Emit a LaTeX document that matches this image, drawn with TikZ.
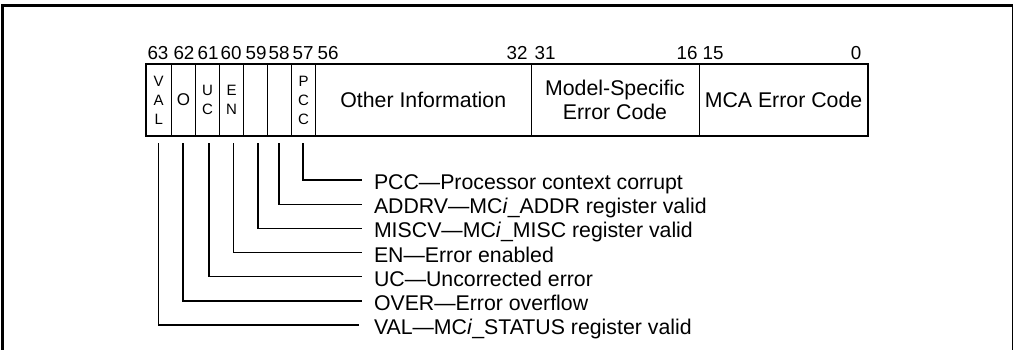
\documentclass[tikz,border=0pt]{standalone}
\usepackage{fontspec}
\setmainfont{Liberation Sans}
\begin{document}
\begin{tikzpicture}[x=1pt,y=-1pt,
  every node/.style={inner sep=0pt,outer sep=0pt},
  cell/.style={draw,line width=0.8pt,minimum height=72pt,align=center,font=\fontsize{21.3}{24}\selectfont},
  narrow/.style={cell,font=\fontsize{15}{19}\selectfont},
  bitno/.style={font=\fontsize{18.8}{20}\selectfont},
  lbl/.style={anchor=west,inner xsep=12pt,text height=19pt,text depth=0pt,font=\fontsize{21.3}{24}\selectfont},
  leader/.style={line width=1.1pt}]
\useasboundingbox (0,0) rectangle (1014,350);
% outer frame
\draw[line width=2.5pt] (2.5,360) -- (2.5,5.5) -- (1012.5,5.5);
\draw[line width=1.5pt] (1012.5,5.5) -- (1012.5,360);
% register cells
\node[narrow,minimum width=25.5pt] (c63) at (158.75,100) {V\\A\\L};
\node[cell,minimum width=24pt,font=\fontsize{17}{18}\selectfont] (c62) at (183.5,100) {O};
\node[narrow,minimum width=24pt] (c61) at (207.5,100) {U\\C};
\node[narrow,minimum width=24pt] (c60) at (231.5,100) {E\\N};
\node[narrow,minimum width=24pt] (c59) at (255.5,100) {};
\node[narrow,minimum width=24pt] (c58) at (279.5,100) {};
\node[narrow,minimum width=24pt] (c57) at (303.5,100) {P\\C\\C};
\node[cell,minimum width=215.5pt] (oth) at (423.25,100) {Other Information};
\node[cell,minimum width=168pt] (msc) at (615,100) {Model-Specific\\Error Code};
\node[cell,minimum width=169pt] (mca) at (783.5,100) {MCA Error Code};
\draw[line width=2pt] (c63.north west) rectangle (mca.south east);
% bit numbers
\node[bitno] (b63) at (158,53) {63};
\node[bitno] (b62) at (184,53) {62};
\node[bitno] (b61) at (208,53) {61};
\node[bitno] (b60) at (231,53) {60};
\node[bitno] (b59) at (256,53) {59};
\node[bitno] (b58) at (279,53) {58};
\node[bitno] (b57) at (303,53) {57};
\node[bitno] (b56) at (328,53) {56};
\node[bitno] (b32) at (517,53) {32};
\node[bitno] (b31) at (545,53) {31};
\node[bitno] (b16) at (687,53) {16};
\node[bitno] (b15) at (713,53) {15};
\node[bitno] (b0) at (856,53) {0};
% leader tops
\coordinate (t63) at (158.5,143);
\coordinate (t62) at (183,143);
\coordinate (t61) at (209,143);
\coordinate (t60) at (233.5,143);
\coordinate (t59) at (258,143);
\coordinate (t58) at (279,143);
\coordinate (t57) at (303,143);
% labels
\node[lbl] (l57) at (362,180) {PCC—Processor context corrupt};
\node[lbl] (l58) at (362,204.2) {ADDRV—MC\textit{i}\_ADDR register valid};
\node[lbl] (l59) at (362,228.4) {MISCV—MC\textit{i}\_MISC register valid};
\node[lbl] (l60) at (362,252.6) {EN—Error enabled};
\node[lbl] (l61) at (362,276.8) {UC—Uncorrected error};
\node[lbl] (l62) at (362,301) {OVER—Error overflow};
\node[lbl,inner xsep=15pt,xshift=-3pt] (l63) at (362,325) {VAL—MC\textit{i}\_STATUS register valid};
% leaders
\foreach \b in {57,58,59,60,61,62,63}
  \draw[leader] (t\b) |- (l\b.west);
\end{tikzpicture}
\end{document}
